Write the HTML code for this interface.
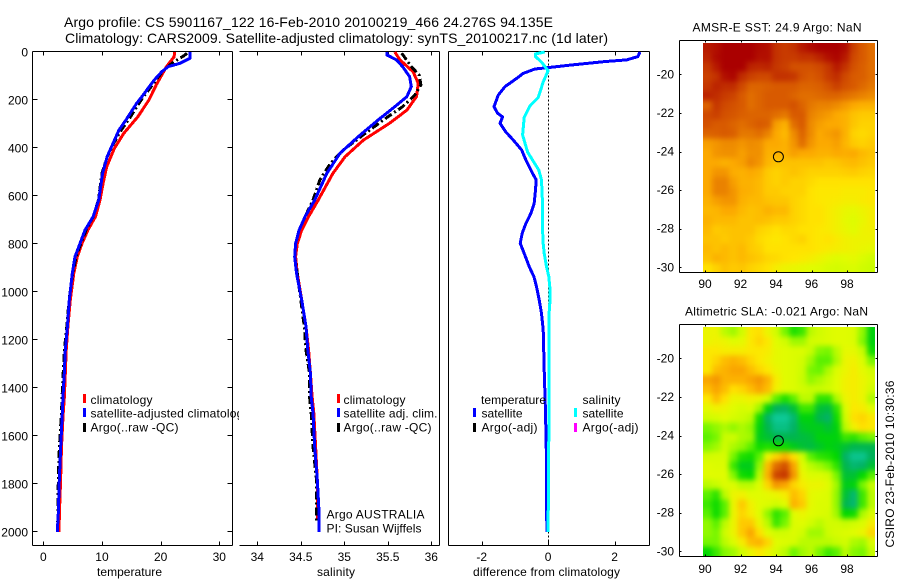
<!DOCTYPE html>
<html>
<head>
<meta charset="utf-8">
<title>Argo profile</title>
<style>
html,body{margin:0;padding:0;background:#fff;width:900px;height:580px;overflow:hidden}
svg{display:block}
text{font-family:"Liberation Sans",sans-serif;font-size:12px;fill:#000}
</style>
</head>
<body>
<svg id="fig" xmlns="http://www.w3.org/2000/svg" width="900" height="580" viewBox="0 0 900 580">
<defs>
<clipPath id="legend-clip"><rect x="32" y="380" width="207" height="60"/></clipPath>
<clipPath id="sst-image-clip"><rect x="703" y="43" width="172" height="229"/></clipPath>
<clipPath id="sla-image-clip"><rect x="703" y="327" width="172" height="229"/></clipPath>
<filter id="map-smooth" filterUnits="userSpaceOnUse" x="670" y="0" width="230" height="580" color-interpolation-filters="sRGB"><feGaussianBlur stdDeviation="2.6"/></filter>
</defs>
<rect x="0" y="0" width="900" height="580" fill="#fff"/>
<g id="plots"></g>
<text x="64" y="27" style="font-size:14px" textLength="489" lengthAdjust="spacing">Argo profile: CS 5901167_122 16-Feb-2010 20100219_466 24.276S 94.135E</text>
<text x="65" y="43" style="font-size:14px" textLength="543" lengthAdjust="spacing">Climatology: CARS2009. Satellite-adjusted climatology: synTS_20100217.nc (1d later)</text>
<text x="97" y="576" textLength="65" lengthAdjust="spacing">temperature</text>
<text x="317" y="576" textLength="38" lengthAdjust="spacing">salinity</text>
<text x="473" y="576" textLength="147" lengthAdjust="spacing">difference from climatology</text>
<g>
<rect x="83" y="394" width="3" height="9" fill="#f00"/>
<rect x="83" y="408" width="3" height="9" fill="#00f"/>
<rect x="83" y="423" width="3" height="9" fill="#000"/>
<text x="90.5" y="404" textLength="62" lengthAdjust="spacing">climatology</text>
<g clip-path="url(#legend-clip)"><text x="90.5" y="417.5" textLength="159" lengthAdjust="spacing">satellite-adjusted climatology</text></g>
<text x="90.5" y="431.5" textLength="88" lengthAdjust="spacing">Argo(..raw -QC)</text>
</g>
<g>
<rect x="337" y="394" width="3" height="9" fill="#f00"/>
<rect x="337" y="408" width="3" height="9" fill="#00f"/>
<rect x="337" y="423" width="3" height="9" fill="#000"/>
<text x="343.5" y="404" textLength="62" lengthAdjust="spacing">climatology</text>
<text x="343.5" y="417.5" textLength="94" lengthAdjust="spacing">satellite adj. clim.</text>
<text x="343.5" y="431.5" textLength="88" lengthAdjust="spacing">Argo(..raw -QC)</text>
</g>
<text x="326.5" y="518.5" textLength="98" lengthAdjust="spacing">Argo AUSTRALIA</text>
<text x="326.5" y="532.5" textLength="95" lengthAdjust="spacing">PI: Susan Wijffels</text>
<g>
<rect x="473" y="408" width="3" height="9" fill="#00f"/>
<rect x="473" y="423" width="3" height="9" fill="#000"/>
<rect x="574" y="408" width="3" height="9" fill="#0ff"/>
<rect x="574" y="423" width="3" height="9" fill="#f0f"/>
<text x="481" y="404" textLength="65" lengthAdjust="spacing">temperature</text>
<text x="481.5" y="417.5" textLength="41" lengthAdjust="spacing">satellite</text>
<text x="481.5" y="431.5" textLength="56" lengthAdjust="spacing">Argo(-adj)</text>
<text x="582.5" y="404" textLength="38" lengthAdjust="spacing">salinity</text>
<text x="582.5" y="417.5" textLength="41" lengthAdjust="spacing">satellite</text>
<text x="582.5" y="431.5" textLength="56" lengthAdjust="spacing">Argo(-adj)</text>
</g>
<text x="692.5" y="31.5" textLength="169" lengthAdjust="spacing">AMSR-E SST: 24.9 Argo: NaN</text>
<text x="685" y="315.5" textLength="183" lengthAdjust="spacing">Altimetric SLA: -0.021 Argo: NaN</text>
<text x="894" y="547.5" transform="rotate(-90 894 547.5)" textLength="167" lengthAdjust="spacing">CSIRO 23-Feb-2010 10:30:36</text>
</svg>
<script>
// ---------- profile data ----------
const tempClimDepth = [0,20,61,135,200,270,339,402,478,547,617,686,742,798,853,922,1033,1144,1242,1338,1436,1504,1644,1783,1922,2000];
const tempClimValues = [22.4,22.3,21,19.3,18,16.1,13.7,12.1,10.8,10.2,9.66,8.9,7.6,6.6,5.8,5.2,4.6,4.2,3.9,3.75,3.6,3.4,3.1,2.95,2.75,2.67];
const tempSatDepth = [0,26,47,61,82,117,186,214,283,325,380,436,505,617,686,742,798,853,922,1033,1144,1242,1338,1436,1504,1644,1783,1922,2000];
const tempSatValues = [25,25,23.3,21.3,20.2,18.9,16.8,15.9,14.1,12.9,11.9,10.9,10.1,9.45,8.5,7.1,6.25,5.4,4.95,4.43,4.1,3.75,3.58,3.35,3.24,2.96,2.73,2.56,2.39];
const tempArgoDepth = [5,15,30,48,62,82,117,150,186,214,250,283,325,380,436,505,617,686,742,798,853,922,1033,1144,1242,1338,1436,1504,1644,1783,1922,2000];
const tempArgoValues = [24.5,24,23,21.9,21.2,20.3,19.2,18.2,17.1,16.3,15.4,14.5,13.3,12,10.9,10,9.4,8.5,7.3,6.4,5.6,5,4.4,4,3.6,3.4,3.2,3.1,2.75,2.55,2.5,2.4];

const salClimDepth = [0,33,82,130,186,242,297,367,436,505,617,686,742,798,853,922,1033,1144,1242,1338,1436,1504,1644,1783,1950];
const salClimValues = [35.58,35.64,35.79,35.85,35.83,35.72,35.52,35.22,35.01,34.87,34.7,34.59,34.51,34.46,34.44,34.46,34.51,34.56,34.59,34.61,34.63,34.65,34.67,34.69,34.69];
const salSatDepth = [0,12,33,61,103,144,186,228,283,353,422,505,617,686,742,798,853,922,1033,1144,1242,1338,1436,1504,1644,1783,1922,2000];
const salSatValues = [35.49,35.49,35.6,35.67,35.75,35.77,35.72,35.58,35.39,35.16,34.95,34.8,34.66,34.55,34.48,34.44,34.43,34.45,34.51,34.56,34.58,34.61,34.62,34.64,34.66,34.69,34.71,34.71];
const salArgoDepth = [5,61,96,137,179,228,270,339,408,464,533,617,686,742,798,853,922,1033,1144,1242,1338,1436,1504,1644,1783,1922,1960];
const salArgoValues = [35.66,35.77,35.86,35.88,35.81,35.67,35.5,35.24,34.99,34.84,34.72,34.64,34.55,34.48,34.44,34.43,34.46,34.5,34.54,34.56,34.6,34.6,34.62,34.64,34.68,34.68,34.68];

const diffTempDepth = [0,19,33,40,54,65,71,89,110,130,144,179,228,255,271,297,332,367,408,450,505,533,575,630,672,714,755,797,839,894,936,978,1033,1089,1158,1258,1325,1500,1700,2000];
const diffTempValues = [2.76,2.7,2.36,1.7,0.7,0,-0.4,-0.75,-0.95,-1.15,-1.3,-1.5,-1.63,-1.52,-1.37,-1.45,-1.28,-1.05,-0.8,-0.67,-0.47,-0.36,-0.38,-0.42,-0.52,-0.67,-0.78,-0.84,-0.72,-0.57,-0.43,-0.35,-0.27,-0.2,-0.15,-0.13,-0.12,-0.08,-0.05,-0.04];
const diffSalDepth = [0,8,19,42,78,125,190,225,272,346,417,492,533,630,783,839,894,936,992,1047,1089,1325,1600,2000];
const diffSalValues = [-0.1,-0.38,-0.38,-0.2,0,-0.15,-0.3,-0.55,-0.72,-0.77,-0.62,-0.28,-0.2,-0.17,-0.16,-0.12,-0.05,0.02,0.06,0.05,0.03,0.03,0.02,0];

const depthTicks = [0,200,400,600,800,1000,1200,1400,1600,1800,2000];
const tempTicks = [0,10,20,30];
const salTicks = [34,34.5,35,35.5,36];
const salTickLabels = ['34','34.5','35','35.5','36'];
const diffTicks = [-2,0,2];
const lonTicks = [90,92,94,96,98];
const latTicks = [-20,-22,-24,-26,-28,-30];
const floatLon = 94.135;
const floatLat = -24.276;

// ---------- map data (north to south, west to east) ----------
const sstValues = [
[28,28.2,28.5,28.5,28.5,28.5,28.3,28.2,27.5,27.3,27.5,28,28.3,28.5,28.5,28.5,28.3,27.2,26.6,26.2],
[27.8,28.3,28.5,28.5,28.5,28.5,28.2,28.2,27.5,27.3,27.3,27.5,27.5,27.8,28.2,28.4,28,27,26.6,26.2],
[27.4,28,28.5,28.5,28.5,27.8,27.7,27.8,27.4,27.2,26.8,26.8,26.8,27,27.4,28,27.5,26.8,26.5,26.2],
[27.2,27.5,28.2,28.4,27.6,27.2,27,27,27.5,27.5,27.4,26.8,26.6,26.8,27.3,27.6,27,26.6,26.5,26.2],
[27.4,27.8,27.6,27.6,27,26.4,26.4,26.5,26.6,26.6,26.6,26.4,26.4,26.5,26.8,27.2,26.8,26.6,26.3,26],
[27.8,27.6,27.3,27.1,26.6,26.2,26.4,26.6,26.6,26.6,26.4,26.2,26.2,26.3,26.4,26.4,26.2,26,25.8,25.6],
[26.4,27.4,27,26.8,26.6,26.2,26.4,26.6,26.6,26.6,26.8,26.4,26,25.8,25.8,25.6,25.3,25,24.8,24.8],
[27,27.2,26.8,26.7,26.5,26.4,26.4,26.4,26.2,26,26.6,26.6,25.8,25.5,25.3,25,24.8,24.4,24.2,24.2],
[26.8,26.6,26.6,26.4,26.2,26.4,26.6,26.5,25.2,24.8,26.2,26.6,25.6,25.2,25,25,24.8,24.3,24,24],
[26.4,26.5,26.6,26.5,26,26,26.2,25.8,25,24.6,25.6,26.4,25.6,25,25.2,25.4,24.8,24,23.8,24],
[25.2,25.4,25.6,25.6,25.4,25.6,25.5,25,25,24.8,25.4,26.2,25.4,25,25,25.2,24.7,24.2,24,24.2],
[25,25.4,25.5,25.5,25.2,25.5,25.5,24.8,24.8,24.8,25.2,25,25,24.8,24.8,25,24.9,25,24.6,24.4],
[25,25,24.8,25,25.2,25.7,25.4,24.7,24.4,24.4,24.4,24.4,24.4,24.4,24.2,24.3,24.5,24.6,24.4,24.2],
[25,25.4,25.4,24.9,24.8,25,24.8,24.2,24,24.2,24.4,24.2,24,24,24,24,24.1,24.2,24,23.9],
[25,25.8,25.8,25.2,24.8,24.8,24.6,24.2,24,24.2,24,24,23.8,23.6,23.6,23.6,23.6,23.6,23.6,23.6],
[25,25.8,25.8,25.4,24.9,24.8,24.6,24.2,24.2,24,24,24,23.6,23.4,23.4,23.4,23.2,23.2,23.2,23.4],
[24.8,25.2,25.4,25.4,24.8,24.6,24.6,24.4,24.3,24.3,24,23.8,23.6,23.4,23.3,23.2,23,23,23.2,23.4],
[24.6,24.7,25,25,24.6,24.4,24.5,24.8,24.6,24.6,24,23.8,23.6,23.6,23.2,22.8,22.4,22.2,22.6,23],
[24.8,24.6,24.6,24.6,24.4,24.4,24.5,24.4,24.2,24.2,24,23.8,23.6,23.6,23.2,22.8,22.2,21.8,22.4,23],
[24.6,24.2,24.3,24.4,24.4,24.4,24,23.8,23.6,23.8,23.8,23.6,23.6,23.4,23.2,22.8,22.4,22,22.6,22.8],
[24.4,24.4,24.2,24.4,24.4,24.2,23.8,23.6,23.4,23.6,23.8,24,23.6,23.4,23.6,23.2,22.8,22.6,22.6,22.6],
[24.6,24.4,24.6,24.4,24.6,24.2,24,23.6,23.6,23.6,23.6,23.6,23.6,23.4,23.2,23,22.8,22.6,22.4,22.2],
[24.4,24.8,24.6,24.4,24.6,24.4,24.2,23.9,23.8,23.6,23.5,23.3,23,22.6,22.2,21.8,22,22.2,21.6,21],
[23.6,24,24.4,24.2,24.3,24,23.8,23.6,23,22.6,22.4,22.2,22,21.8,21.4,21.2,21.4,21.6,21,20.6]
];
const slaValues = [
[.05,.05,-.03,-.05,0,.08,.09,.05,0,-.08,-.14,-.12,-.03,0,.02,.03,.03,.02,-.06,-.17],
[.05,.06,.05,.03,.04,.08,.1,.08,.03,0,-.05,-.05,0,.01,.02,.03,.03,.02,-.07,-.17],
[.08,.08,.07,.07,.07,.08,.08,.07,.04,.03,.02,.02,-.02,-.07,-.08,-.03,.04,.04,-.02,-.15],
[.08,.1,.12,.13,.12,.1,.08,.06,.04,.03,.02,0,-.05,-.1,-.1,-.04,.05,.06,.02,-.08],
[.08,.12,.13,.14,.14,.12,.1,.08,.05,.03,.02,-.01,-.08,-.09,-.04,.02,.05,.07,.04,0],
[.14,.15,.13,.13,.13,.14,.15,.13,.07,.03,.02,-.02,-.06,-.04,-.02,.03,.06,.07,.05,.02],
[.12,.14,.12,.09,.1,.12,.14,.12,.06,.03,.02,0,-.02,-.02,0,.03,.06,.07,.05,0],
[.08,.12,.09,.05,.05,.06,.05,0,-.1,-.14,-.1,-.03,-.03,-.13,-.13,-.04,.05,.07,.05,-.04],
[.04,.06,.05,.03,.01,.02,-.05,-.17,-.23,-.24,-.2,-.12,-.12,-.2,-.21,-.13,.02,.08,.07,.03],
[0,.01,.03,.01,-.01,-.03,-.15,-.24,-.29,-.29,-.25,-.17,-.17,-.22,-.24,-.15,0,.09,.1,.08],
[-.08,-.06,-.04,-.06,-.04,-.06,-.17,-.22,-.27,-.27,-.24,-.19,-.18,-.18,-.2,-.17,-.03,.06,.09,.08],
[-.1,-.08,-.02,-.01,-.04,-.05,-.18,-.2,-.22,-.22,-.22,-.21,-.2,-.17,-.17,-.17,-.12,-.13,-.1,-.08],
[-.07,-.05,-.01,-.04,-.06,-.1,-.15,-.14,-.15,-.15,-.18,-.2,-.21,-.19,-.17,-.18,-.2,-.22,-.22,-.22],
[0,.01,.01,-.08,-.14,-.15,-.1,.05,.1,.13,.09,0,-.1,-.13,-.14,-.16,-.24,-.28,-.28,-.23],
[.03,.02,.02,-.12,-.18,-.18,-.06,.12,.18,.2,.14,.03,-.03,-.05,-.08,-.13,-.22,-.25,-.24,-.2],
[.03,.03,.03,-.07,-.15,-.16,-.03,.13,.21,.22,.15,.05,.02,.02,0,-.08,-.2,-.2,-.16,-.1],
[-.03,-.02,.02,.02,-.03,-.03,.02,.1,.15,.14,.1,.07,.05,.05,.03,-.05,-.18,-.17,-.08,-.02],
[-.1,-.13,-.03,.05,.06,.03,.03,.04,.05,.07,.12,.1,.04,.03,.02,-.06,-.2,-.25,-.12,-.03],
[-.12,-.15,-.1,.05,.11,.06,.03,.02,0,.03,.13,.11,.04,.02,.02,-.06,-.22,-.25,-.12,-.03],
[-.1,-.15,-.1,.05,.1,.07,.03,-.06,-.13,-.1,.03,.05,.03,.02,.01,-.05,-.16,-.15,-.04,.02],
[-.06,-.1,-.03,.05,.11,.11,.05,-.03,-.12,-.08,.02,.03,0,-.03,0,0,-.02,0,.02,.07],
[-.06,-.08,-.01,.05,.11,.14,.09,.03,0,0,.02,0,-.05,-.05,-.01,.01,.02,.03,.05,.1],
[-.08,-.08,-.03,.02,.07,.12,.13,.1,.03,.02,.01,-.03,-.03,-.03,-.03,-.02,0,-.04,-.05,.02],
[-.16,-.12,-.07,-.05,0,.05,.08,.05,.01,-.03,-.09,-.05,-.03,-.08,-.12,-.1,-.03,-.07,-.08,-.02]
];

// ---------- helpers ----------
const NS = 'http://www.w3.org/2000/svg';
const root = document.getElementById('plots');
function mk(tag, attrs, parent) {
  const el = document.createElementNS(NS, tag);
  for (const k in attrs) el.setAttribute(k, attrs[k]);
  parent.appendChild(el);
  return el;
}
function lin(v0, p0, v1, p1) {
  return function (v) { return p0 + (v - v0) * (p1 - p0) / (v1 - v0); };
}
function seg(parent, x1, y1, x2, y2, name) {
  const el = mk('line', {x1: x1, y1: y1, x2: x2, y2: y2, stroke: '#000', 'stroke-width': 1, 'shape-rendering': 'crispEdges'}, parent);
  
  
  return el;
}
function label(parent, x, y, str, anchor, name) {
  const el = mk('text', {x: x, y: y, 'text-anchor': anchor}, parent);
  el.textContent = str;
  
  
  return el;
}
function curve(parent, xs, ys, xFn, yFn, color, width, dash, name) {
  const pts = xs.map(function (v, i) { return xFn(v).toFixed(1) + ',' + yFn(ys[i]).toFixed(1); }).join(' ');
  const attrs = {points: pts, fill: 'none', stroke: color, 'stroke-width': width, 'stroke-linejoin': 'round', 'shape-rendering': 'crispEdges'};
  if (dash) attrs['stroke-dasharray'] = dash;
  const el = mk('polyline', attrs, parent);
  
  
  return el;
}

// ---------- profile panels ----------
const TOP = 51.5, BOTTOM = 545.5;
const yDepth = lin(0, 52, 2000, 532);

function profilePanel(cfg) {
  const g = mk('g', {}, root);
  
  
  seg(g, cfg.left, TOP, cfg.right, TOP, 'top-spine');
  seg(g, cfg.left, BOTTOM, cfg.right, BOTTOM, 'x-axis-line');
  seg(g, cfg.right, TOP, cfg.right, BOTTOM, 'right-spine');
  if (cfg.leftSpine) seg(g, cfg.left, TOP, cfg.left, BOTTOM, 'y-axis-line');
  cfg.ticks.forEach(function (t, i) {
    const x = Math.round(cfg.x(t)) + 0.5;
    seg(g, x, TOP, x, TOP + 4, 'top-tick');
    seg(g, x, BOTTOM, x, BOTTOM - 4, 'x-tick');
    label(g, cfg.x(t), 561, cfg.labels[i], 'middle', 'x-tick-label');
  });
  if (cfg.depthTicks) {
    depthTicks.forEach(function (d) {
      const y = Math.round(yDepth(d)) - 0.5;
      seg(g, cfg.left, y, cfg.left + 5, y, 'y-tick-left');
      seg(g, cfg.right, y, cfg.right - 5, y, 'y-tick-right');
      label(g, 28, yDepth(d) + 4.5, String(d), 'end', 'y-tick-label');
    });
  }
  return g;
}

const xTemp = lin(0, 43.3, 30, 219.3);
const xSal = lin(34, 257.3, 36, 431.3);
const xDiff = lin(-2, 481.7, 2, 614.6);

const gT = profilePanel({name: 'temperature-panel', left: 32.5, right: 232.5, leftSpine: true, depthTicks: true, x: xTemp, ticks: tempTicks, labels: tempTicks.map(String)});
curve(gT, tempClimValues, tempClimDepth, xTemp, yDepth, '#f00', 3, null, 'temperature-climatology-line');
curve(gT, tempArgoValues, tempArgoDepth, xTemp, yDepth, '#000', 3, '8 3 2 3', 'temperature-argo-line');
curve(gT, tempSatValues, tempSatDepth, xTemp, yDepth, '#00f', 3, null, 'temperature-satellite-line');

const gS = profilePanel({name: 'salinity-panel', left: 239.5, right: 439.5, leftSpine: false, depthTicks: false, x: xSal, ticks: salTicks, labels: salTickLabels});
curve(gS, salClimValues, salClimDepth, xSal, yDepth, '#f00', 3, null, 'salinity-climatology-line');
curve(gS, salArgoValues, salArgoDepth, xSal, yDepth, '#000', 3, '8 3 2 3', 'salinity-argo-line');
curve(gS, salSatValues, salSatDepth, xSal, yDepth, '#00f', 3, null, 'salinity-satellite-line');

const gD = profilePanel({name: 'difference-panel', left: 448.5, right: 649.5, leftSpine: true, depthTicks: false, x: xDiff, ticks: diffTicks, labels: diffTicks.map(String)});
const zeroLine = mk('line', {x1: 548.5, y1: TOP, x2: 548.5, y2: BOTTOM, stroke: '#000', 'stroke-width': 1, 'stroke-dasharray': '2 2', 'shape-rendering': 'crispEdges'}, gD);


curve(gD, diffTempValues, diffTempDepth, xDiff, yDepth, '#00f', 3, null, 'difference-temperature-line');
curve(gD, diffSalValues, diffSalDepth, xDiff, yDepth, '#0ff', 3, null, 'difference-salinity-line');

// ---------- maps ----------
const colorStops = [
  [0, 15, 205, 160], [.12, 0, 175, 95], [.25, 0, 215, 0], [.38, 110, 245, 0], [.5, 200, 252, 0],
  [.594, 225, 252, 0], [.6875, 255, 230, 0], [.78, 252, 170, 0], [.875, 218, 95, 0], [.9375, 195, 50, 0], [1, 170, 0, 0]
];
function colormap(t) {
  t = Math.max(0, Math.min(1, t));
  for (let i = 1; i < colorStops.length; i++) {
    if (t <= colorStops[i][0]) {
      const a = colorStops[i - 1], b = colorStops[i];
      const f = (t - a[0]) / (b[0] - a[0]);
      return 'rgb(' + Math.round(a[1] + f * (b[1] - a[1])) + ',' + Math.round(a[2] + f * (b[2] - a[2])) + ',' + Math.round(a[3] + f * (b[3] - a[3])) + ')';
    }
  }
  return 'rgb(170,0,0)';
}

function mapPanel(cfg) {
  const g = mk('g', {}, root);
  
  
  const xLon = lin(90, 705, 98, 847);
  const yLat = lin(-20, cfg.lat20, -30, cfg.lat20 + 193);
  const tNorm = cfg.norm;
  const rows = cfg.values.length, cols = cfg.values[0].length;
  const lonW = 89.9, lonE = 99.6, latN = cfg.latN, latS = -30.28;
  const clipGroup = mk('g', {'clip-path': 'url(#' + cfg.clip + ')'}, g);
  
  
  const cells = mk('g', {filter: 'url(#map-smooth)'}, clipGroup);
  
  
  const pad = 9;
  for (let r = 0; r < rows; r++) {
    for (let c = 0; c < cols; c++) {
      let x0 = xLon(lonW + (lonE - lonW) * c / cols), x1 = xLon(lonW + (lonE - lonW) * (c + 1) / cols);
      let y0 = yLat(latN + (latS - latN) * r / rows), y1 = yLat(latN + (latS - latN) * (r + 1) / rows);
      if (c === 0) x0 -= pad;
      if (c === cols - 1) x1 += pad;
      if (r === 0) y0 -= pad;
      if (r === rows - 1) y1 += pad;
      const cell = mk('rect', {x: x0.toFixed(2), y: y0.toFixed(2), width: (x1 - x0 + .4).toFixed(2), height: (y1 - y0 + .4).toFixed(2), fill: colormap(tNorm(cfg.values[r][c])), 'shape-rendering': 'crispEdges'}, cells);
      
      
    }
  }
  const L = 679.5, R = 877.5, T = cfg.top, B = cfg.bottom;
  seg(g, L, T, R, T, 'map-top-spine');
  seg(g, L, B, R, B, 'map-bottom-spine');
  seg(g, L, T, L, B, 'map-left-spine');
  seg(g, R, T, R, B, 'map-right-spine');
  lonTicks.forEach(function (lon) {
    const x = Math.round(xLon(lon)) + 0.5;
    seg(g, x, T, x, T + 2, 'map-top-tick');
    seg(g, x, B, x, B - 2, 'map-x-tick');
    label(g, xLon(lon), cfg.xLabelY, String(lon), 'middle', 'map-x-tick-label');
  });
  latTicks.forEach(function (lat) {
    const y = Math.round(yLat(lat)) + 0.5;
    seg(g, L, y, L + 2, y, 'map-y-tick');
    seg(g, R, y, R - 2, y, 'map-y-tick-right');
    label(g, 674, yLat(lat) + 4, String(lat), 'end', 'map-y-tick-label');
  });
  const marker = mk('circle', {cx: xLon(floatLon).toFixed(1), cy: yLat(floatLat).toFixed(1), r: 5, fill: 'none', stroke: '#000', 'stroke-width': 1}, g);
  
  
}

mapPanel({name: 'sst-map', values: sstValues, clip: 'sst-image-clip', norm: function (v) { return (v - 12.5) / 16; }, lat20: 74.3, latN: -18.38, top: 40.5, bottom: 272.5, xLabelY: 288});
mapPanel({name: 'sla-map', values: slaValues, clip: 'sla-image-clip', norm: function (v) { return (v + 0.3) / 0.56; }, lat20: 358.3, latN: -18.38, top: 324.5, bottom: 556.5, xLabelY: 573});
</script>
</body>
</html>
